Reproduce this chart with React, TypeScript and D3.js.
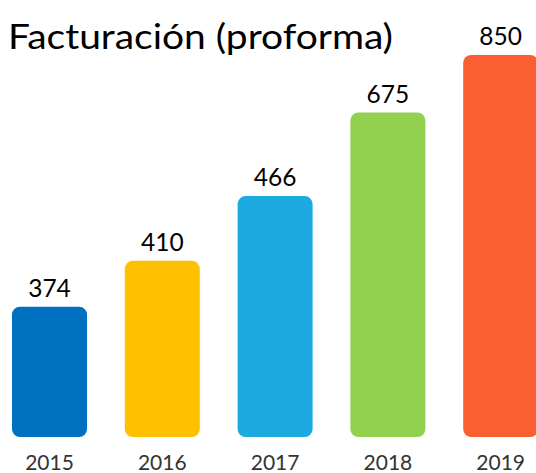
import React from "react";
import * as d3 from "d3";

const years = ["2015", "2016", "2017", "2018", "2019"];
const valueLabels = [374, 410, 466, 675, 850];
// apparent bar lengths (same units as the top bar = 850)
const barLengths = [290, 392, 536, 722, 850];
const colors = ["#0070C0", "#FFC000", "#1CAAE1", "#92D050", "#F95F31"];
const title = "Facturación (proforma)";

const W = 536;
const H = 473;

export default function App() {
  const x = d3.scaleBand<string>().domain(years).range([12, 538.2]).paddingInner(0.335).paddingOuter(0);
  const y = d3.scaleLinear().domain([0, 850]).range([437, 55]);
  const font = "Lato, 'Noto Sans', sans-serif";
  return (
    <svg width={W} height={H} style={{ position: "absolute", left: 0, top: 0, background: "#fff" }}>
      <text x={8} y={48.5} fontFamily={font} fontSize={35} fill="#000" textLength={385} lengthAdjust="spacingAndGlyphs">{title}</text>
      {years.map((yr, i) => {
        const x0 = x(yr)!;
        const bw = x.bandwidth();
        const top = y(barLengths[i]);
        return (
          <g key={yr}>
            <rect x={x0} y={top} width={bw} height={y(0) - top} rx={8} ry={8} fill={colors[i]} />
            <text x={x0 + bw / 2} y={top - 10} textAnchor="middle" fontFamily={font} fontSize={24.5} fill="#000">
              {valueLabels[i]}
            </text>
            <text x={x0 + bw / 2} y={470} textAnchor="middle" fontFamily={font} fontSize={21} fill="#333">
              {yr}
            </text>
          </g>
        );
      })}
    </svg>
  );
}
